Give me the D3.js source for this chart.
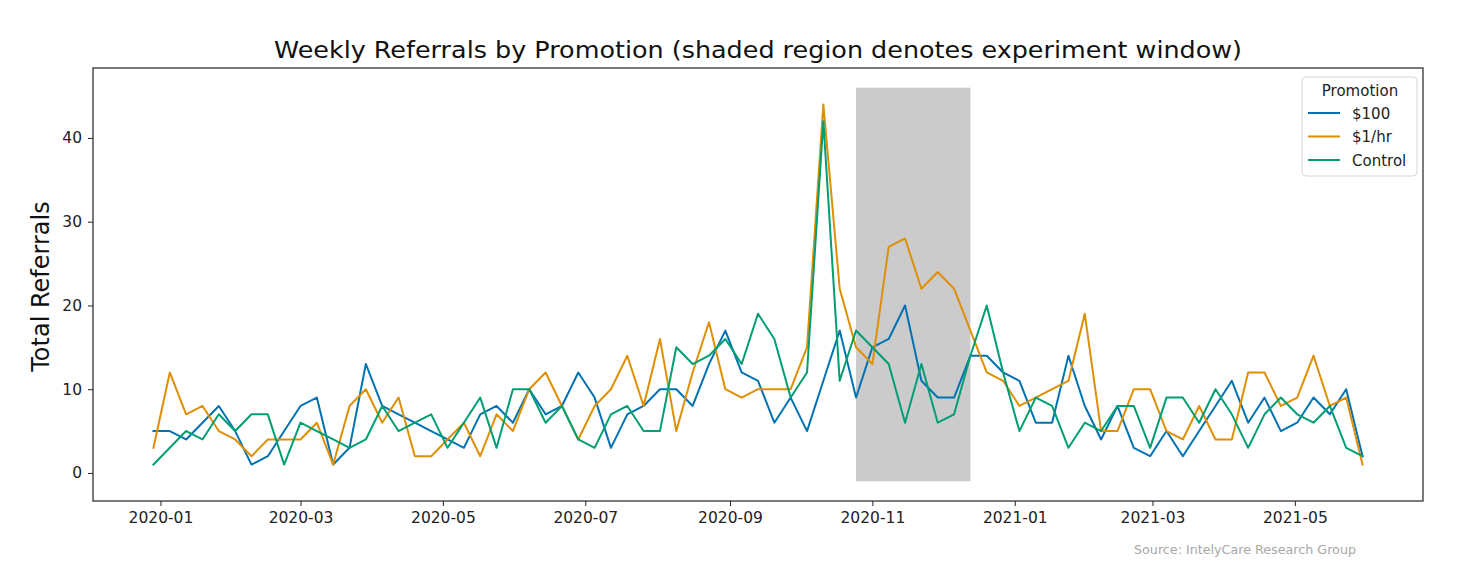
<!DOCTYPE html>
<html>
<head>
<meta charset="utf-8">
<script src="https://cdn.jsdelivr.net/npm/d3@7"></script>
<style>
  html, body { margin: 0; padding: 0; background: #fff; }
  svg { display: block; font-family: "DejaVu Sans", sans-serif; }
</style>
</head>
<body>
<svg id="chart" width="1472" height="577"></svg>
<script>
// ---- data ----
const startDate = "2019-12-29";
const weekCount = 75;
const seriesNames = ["$100", "$1/hr", "Control"];
const values100 = [5,5,4,6,8,5,1,2,5,8,9,1,3,13,8,7,6,5,4,3,7,8,6,10,7,8,12,9,3,7,8,10,10,8,13,17,12,11,6,9,5,11,17,9,15,16,20,11,9,9,14,14,12,11,6,6,14,8,4,8,3,2,5,2,5,8,11,6,9,5,6,9,7,10,2];
const values1hr = [3,12,7,8,5,4,2,4,4,4,6,1,8,10,6,9,2,2,4,6,2,7,5,10,12,8,4,8,10,14,8,16,5,12,18,10,9,10,10,10,15,44,22,15,13,27,28,22,24,22,17,12,11,8,9,10,11,19,5,5,10,10,5,4,8,4,4,12,12,8,9,14,8,9,1];
const valuesControl = [1,3,5,4,7,5,7,7,1,6,5,4,3,4,8,5,6,7,3,6,9,3,10,10,6,8,4,3,7,8,5,5,15,13,14,16,13,19,16,9,12,42,11,17,15,13,6,13,6,7,14,20,12,5,9,8,3,6,5,8,8,3,9,9,6,10,7,3,7,9,7,6,8,3,2];
const seriesColors = ["#0173b2", "#de8f05", "#029e73"];
const windowStart = "2020-10-25";
const windowEnd = "2020-12-13";
const windowRange = [-1, 46];
const xTickLabels = ["2020-01","2020-03","2020-05","2020-07","2020-09","2020-11","2021-01","2021-03","2021-05"];
const yTickValues = [0, 10, 20, 30, 40];

// ---- setup ----
const parseDay = d3.timeParse("%Y-%m-%d");
const parseMonth = d3.timeParse("%Y-%m");
const dates = d3.range(weekCount).map(i => d3.timeDay.offset(parseDay(startDate), 7 * i));
const allSeries = [values100, values1hr, valuesControl].map((vals, k) => ({
  name: seriesNames[k], color: seriesColors[k],
  points: vals.map((v, i) => ({ date: dates[i], value: v }))
}));

const svg = d3.select("#chart");
const margin = { left: 93, right: 1472 - 1423, top: 68, bottom: 577 - 501 };
const W = 1472, H = 577;

const d0 = dates[0], d1 = dates[dates.length - 1];
const span = d1 - d0;
const x = d3.scaleTime()
  .domain([new Date(+d0 - span * 0.05), new Date(+d1 + span * 0.05)])
  .range([margin.left, W - margin.right]);

const yMin = windowRange[0], yMax = windowRange[1];
const yPad = (yMax - yMin) * 0.05;
const y = d3.scaleLinear()
  .domain([yMin - yPad, yMax + yPad])
  .range([H - margin.bottom, margin.top]);

// shaded window
svg.append("rect")
  .attr("x", x(parseDay(windowStart)))
  .attr("width", x(parseDay(windowEnd)) - x(parseDay(windowStart)))
  .attr("y", y(windowRange[1]))
  .attr("height", y(windowRange[0]) - y(windowRange[1]))
  .attr("fill", "#cbcbcb");

// lines
const line = d3.line().x(d => x(d.date)).y(d => y(d.value));
svg.append("g").selectAll("path")
  .data(allSeries)
  .join("path")
  .attr("d", d => line(d.points))
  .attr("fill", "none")
  .attr("stroke", d => d.color)
  .attr("stroke-width", 2)
  .attr("stroke-linejoin", "round")
  .attr("stroke-linecap", "square");

// spines
svg.append("rect")
  .attr("x", margin.left).attr("y", margin.top)
  .attr("width", W - margin.right - margin.left)
  .attr("height", H - margin.bottom - margin.top)
  .attr("fill", "none").attr("stroke", "#222").attr("stroke-width", 1.2);

// x axis
const xAxis = d3.axisBottom(x)
  .tickValues(xTickLabels.map(parseMonth))
  .tickFormat(d3.timeFormat("%Y-%m"))
  .tickSize(5).tickSizeOuter(0).tickPadding(6);
const gx = svg.append("g").attr("transform", `translate(0,${H - margin.bottom})`).call(xAxis);
gx.select(".domain").remove();
gx.selectAll("text").attr("font-size", 15.5).attr("fill", "#222").attr("font-family", "DejaVu Sans");
gx.selectAll("line").attr("stroke", "#222").attr("stroke-width", 1);

// y axis
const yAxis = d3.axisLeft(y).tickValues(yTickValues).tickSize(5).tickSizeOuter(0).tickPadding(6);
const gy = svg.append("g").attr("transform", `translate(${margin.left},0)`).call(yAxis);
gy.select(".domain").remove();
gy.selectAll("text").attr("font-size", 15.5).attr("fill", "#222").attr("font-family", "DejaVu Sans");
gy.selectAll("line").attr("stroke", "#222").attr("stroke-width", 1);

// title
svg.append("text")
  .attr("x", (margin.left + W - margin.right) / 2).attr("y", 58)
  .attr("text-anchor", "middle").attr("font-size", 22.5).attr("fill", "#111")
  .attr("textLength", 968).attr("lengthAdjust", "spacingAndGlyphs")
  .text("Weekly Referrals by Promotion (shaded region denotes experiment window)");

// y label
svg.append("text")
  .attr("transform", `translate(49,${(margin.top + H - margin.bottom) / 2 + 2}) rotate(-90)`)
  .attr("text-anchor", "middle").attr("font-size", 24).attr("fill", "#111")
  .text("Total Referrals");

// source
svg.append("text")
  .attr("x", 1356).attr("y", 554)
  .attr("text-anchor", "end").attr("font-size", 12).attr("fill", "#a8a8a8")
  .attr("textLength", 222).attr("lengthAdjust", "spacingAndGlyphs")
  .text("Source: IntelyCare Research Group");

// legend
const lg = svg.append("g").attr("transform", "translate(1302,77)");
lg.append("rect").attr("width", 115).attr("height", 99).attr("rx", 4)
  .attr("fill", "#fff").attr("fill-opacity", 0.8).attr("stroke", "#d5d5d5");
lg.append("text").attr("x", 58).attr("y", 19).attr("text-anchor", "middle")
  .attr("font-size", 15).attr("fill", "#222").text("Promotion");
allSeries.forEach((s, i) => {
  const yy = 36 + i * 23.5;
  lg.append("line").attr("x1", 6).attr("x2", 38).attr("y1", yy).attr("y2", yy)
    .attr("stroke", s.color).attr("stroke-width", 2);
  lg.append("text").attr("x", 50).attr("y", yy + 5.5).attr("font-size", 15)
    .attr("fill", "#222").text(s.name);
});
</script>
</body>
</html>
